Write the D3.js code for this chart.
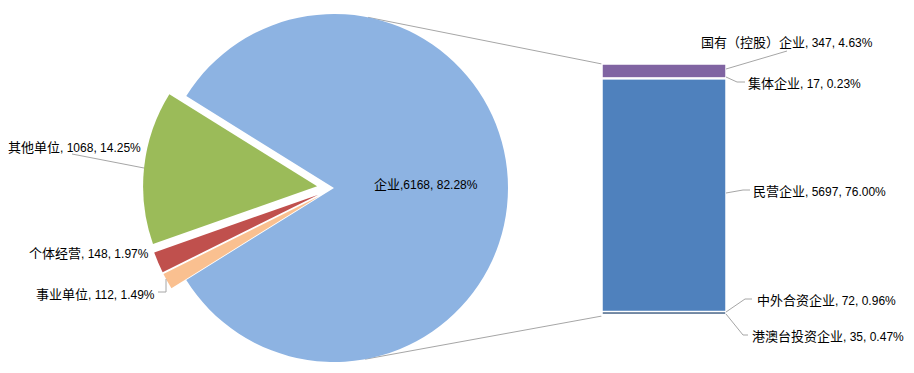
<!DOCTYPE html>
<html><head><meta charset="utf-8">
<script src="https://cdn.jsdelivr.net/npm/d3@7/dist/d3.min.js"></script>
<style>
html,body{margin:0;padding:0;background:#fff;}
svg{display:block;}
</style></head>
<body>
<svg id="c" width="914" height="373"></svg>
<script>
// ---- data ----
const pieCats = ["企业", "事业单位", "个体经营", "其他单位"];
const pieVals = [6168, 112, 148, 1068];
const piePcts = ["82.28%", "1.49%", "1.97%", "14.25%"];
const barCats = ["国有（控股）企业", "集体企业", "民营企业", "中外合资企业", "港澳台投资企业"];
const barVals = [347, 17, 5697, 72, 35];
const barPcts = ["4.63%", "0.23%", "76.00%", "0.96%", "0.47%"];

// ---- styles / layout ----
const pieColors = ["#8DB3E2", "#FAC090", "#C0504D", "#9BBB59"];
const barColors = ["#8064A2", "#4BACC6", "#4F81BD", "#2C4D75", "#1F497D"];
const cx = 334, cy = 188, R = 174, explode = 17;
const barX0 = 602, barX1 = 726, barTop = 64, barBottom = 316;
const lineColor = "#A6A6A6";
const cjkFont = "'Noto Sans CJK SC', sans-serif";
const latFont = "'Liberation Sans', Arial, sans-serif";

const svg = d3.select("#c");

// ---- pie ----
const total = d3.sum(pieVals);
const span = pieVals[0] / total * 2 * Math.PI;
const start = Math.PI / 2 - span / 2;
const pie = d3.pie().sort(null).startAngle(start).endAngle(start + 2 * Math.PI);
const arcs = pie(pieVals);
const arc = d3.arc().innerRadius(0).outerRadius(R);

// connector lines (tangent from bar corners to pie)
function tangent(px, py, upper) {
  const dx = px - cx, dy = py - cy, d = Math.hypot(dx, dy);
  const base = Math.atan2(dy, dx), a = Math.acos(R / d);
  const t = upper ? base - a : base + a;
  return [cx + R * Math.cos(t), cy + R * Math.sin(t)];
}
const yBar = d3.scaleLinear().domain([0, d3.sum(barVals)]).range([barTop, barBottom]);
const tTop = tangent(barX0, yBar(0), true);
const tBot = tangent(barX0, yBar(d3.sum(barVals)), false);
svg.append("line").attr("x1", tTop[0]).attr("y1", tTop[1]).attr("x2", barX0).attr("y2", yBar(0))
  .attr("stroke", lineColor).attr("stroke-width", 1);
svg.append("line").attr("x1", tBot[0]).attr("y1", tBot[1]).attr("x2", barX0).attr("y2", yBar(d3.sum(barVals)))
  .attr("stroke", lineColor).attr("stroke-width", 1);

const g = svg.append("g").attr("transform", `translate(${cx},${cy})`);
g.selectAll("path").data(arcs).join("path")
  .attr("d", arc)
  .attr("fill", (d, i) => pieColors[i])
  .attr("transform", (d, i) => {
    if (i === 0) return null;
    const m = (d.startAngle + d.endAngle) / 2;
    return `translate(${Math.sin(m) * explode},${-Math.cos(m) * explode})`;
  });

// ---- bar ----
let acc = 0;
const segs = barVals.map((v, i) => { const s = { i, y0: acc, y1: acc + v }; acc += v; return s; });
svg.append("g").selectAll("rect").data(segs).join("rect")
  .attr("x", barX0).attr("width", barX1 - barX0)
  .attr("y", d => yBar(d.y0)).attr("height", d => Math.max(0.5, yBar(d.y1) - yBar(d.y0)))
  .attr("fill", d => barColors[d.i])
  .attr("stroke", "#fff").attr("stroke-width", 1.5);

// ---- labels ----
function label(x, y, cat, sep, val, pct) {
  const t = svg.append("text").attr("x", x).attr("y", y).attr("dy", "0.36em").attr("fill", "#000");
  t.append("tspan").attr("font-family", cjkFont).attr("font-size", 13).text(cat);
  t.append("tspan").attr("font-family", latFont).attr("font-size", 12).text(sep + val + ", " + pct);
}
const pieLabelPos = [[374, 183, ","], [36, 293, ", "], [29, 252, ", "], [8, 146, ", "]];
pieCats.forEach((c, i) => label(pieLabelPos[i][0], pieLabelPos[i][1], c, pieLabelPos[i][2], pieVals[i], piePcts[i]));
const barLabelPos = [[701, 41], [748, 82], [753, 190], [757, 299], [752, 335]];
barCats.forEach((c, i) => label(barLabelPos[i][0], barLabelPos[i][1], c, ", ", barVals[i], barPcts[i]));

// leader lines
const leaders = [
  [[72, 154], [144, 168]],
  [[158, 292], [166, 292], [166, 279]],
  [[barX1, 69], [787, 51]],
  [[barX1, 77], [737, 82], [745, 82]],
  [[barX1, 193], [743, 190], [750, 190]],
  [[barX1, 312], [745, 299], [752, 299]],
  [[barX1, 314], [743, 335], [748, 335]]
];
const lineGen = d3.line();
svg.append("g").selectAll("path").data(leaders).join("path")
  .attr("d", lineGen).attr("fill", "none").attr("stroke", lineColor).attr("stroke-width", 1);
</script>
</body></html>
